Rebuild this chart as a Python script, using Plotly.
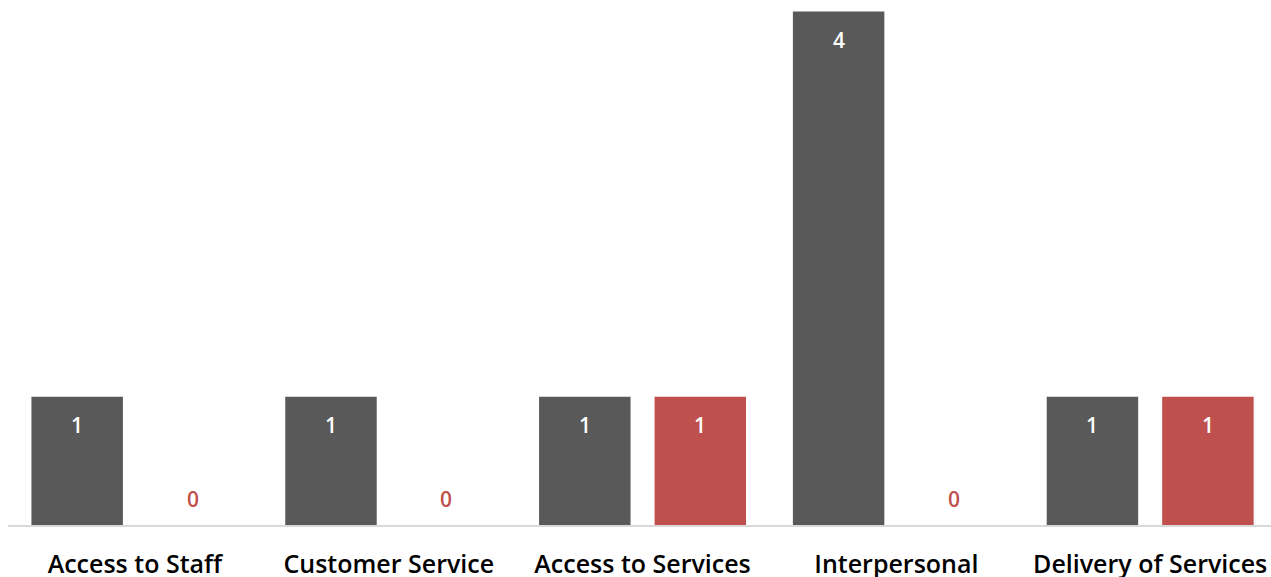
import plotly.graph_objects as go

categories = ["Access to Staff", "Customer Service", "Access to Services", "Interpersonal", "Delivery of Services"]
series_a = [1, 1, 1, 4, 1]
series_b = [0, 0, 1, 0, 1]

GREY = "#595959"
RED = "#C0504D"
W, H = 1271, 577
ML, MR, MT, MB = 8, 0, 0, 52
XR = [-0.5, 4.476]
YR = [0, 4.09]
BARGAP = 0.09
GROUPGAP = 0.208

fig = go.Figure()
fig.add_trace(go.Bar(x=categories, y=series_a, marker_color=GREY, marker_line_width=0, name="A"))
fig.add_trace(go.Bar(x=categories, y=series_b, marker_color=RED, marker_line_width=0, name="B"))

cat_px = (W - ML - MR) / (XR[1] - XR[0])
shift = cat_px * (1 - BARGAP) / 4

for vals, sgn, col in ((series_a, -1, GREY), (series_b, 1, RED)):
    for c, v in zip(categories, vals):
        inside = v > 0
        fig.add_annotation(x=c, y=v, xref="x", yref="y", text=str(v), showarrow=False,
                           xshift=sgn * shift, yshift=-28 if inside else 26, yanchor="middle",
                           font=dict(family="Open Sans", size=21,
                                     color="white" if inside else col, weight=600))

fig.update_layout(
    width=W, height=H, autosize=False,
    margin=dict(l=ML, r=MR, t=MT, b=MB),
    barmode="group", bargap=BARGAP, bargroupgap=GROUPGAP,
    plot_bgcolor="white", paper_bgcolor="white",
    showlegend=False,
)
fig.update_xaxes(range=XR, showline=True, linecolor="#D9D9D9", linewidth=2,
                 ticks="outside", ticklen=16, tickcolor="rgba(0,0,0,0)",
                 tickfont=dict(family="Open Sans", size=25, color="black", weight=600),
                 showgrid=False, automargin=False)
fig.update_yaxes(range=YR, visible=False, showgrid=False, zeroline=False, automargin=False)

fig.write_html("out.html")
